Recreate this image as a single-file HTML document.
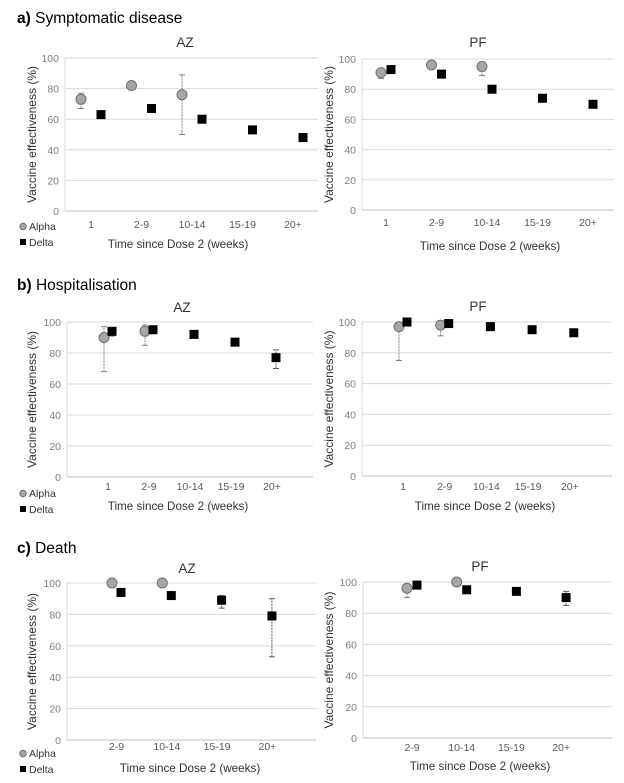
<!DOCTYPE html>
<html><head><meta charset="utf-8"><style>
body{margin:0;background:#fff;}
svg{display:block;font-family:"Liberation Sans",sans-serif;}
</style></head><body>
<svg id="fig" width="624" height="783" viewBox="0 0 624 783">
<text x="17" y="23" font-size="15.5"><tspan font-weight="bold">a)</tspan> Symptomatic disease</text>
<text x="17" y="290" font-size="15.5"><tspan font-weight="bold">b)</tspan> Hospitalisation</text>
<text x="17" y="553" font-size="15.5"><tspan font-weight="bold">c)</tspan> Death</text>
</svg>
<script>
// ---- data ----
const catsFull = ["1","2-9","10-14","15-19","20+"];
const catsDeath = ["2-9","10-14","15-19","20+"];
const yTicks = [0,20,40,60,80,100];
// a) symptomatic
const aAZAlpha = [73,82,76,null,null];
const aAZAlphaLo = [67,80,50,null,null];
const aAZAlphaHi = [77,83,89,null,null];
const aAZDelta = [63,67,60,53,48];
const aPFAlpha = [91,96,95,null,null];
const aPFAlphaLo = [87,95,89,null,null];
const aPFAlphaHi = [92,97,97,null,null];
const aPFDelta = [93,90,80,74,70];
// b) hospitalisation
const bAZAlpha = [90,94,null,null,null];
const bAZAlphaLo = [68,85,null,null,null];
const bAZAlphaHi = [97,98,null,null,null];
const bAZDelta = [94,95,92,87,77];
const bAZDeltaLo = [91,94,91,86,70];
const bAZDeltaHi = [96,96,93,88,82];
const bPFAlpha = [97,98,null,null,null];
const bPFAlphaLo = [75,91,null,null,null];
const bPFAlphaHi = [99,99,null,null,null];
const bPFDelta = [100,99,97,95,93];
const bPFDeltaLo = [99,98,96,94,91];
const bPFDeltaHi = [100,99,97,95,94];
// c) death
const cAZAlpha = [100,100,null,null];
const cAZDelta = [94,92,89,79];
const cAZDeltaLo = [92,90,84,53];
const cAZDeltaHi = [95,94,92,90];
const cPFAlpha = [96,100,null,null];
const cPFAlphaLo = [90,100,null,null];
const cPFAlphaHi = [98,100,null,null];
const cPFDelta = [98,95,94,90];
const cPFDeltaLo = [97,94,93,85];
const cPFDeltaHi = [99,96,95,94];

const NS="http://www.w3.org/2000/svg";
const svg=document.getElementById('fig');
function mk(tag,attrs,parent){const e=document.createElementNS(NS,tag);for(const k in attrs)e.setAttribute(k,attrs[k]);(parent||svg).appendChild(e);return e;}

const panels=[
 {id:'a-az',title:'AZ',cats:catsFull,x0:65,x1:318,yTop:58,yBot:211,c0:91,step:50.5,off:10,tx:185,ty:47,tickY:228,xtX:178,xtY:248,ytX:36,legend:[20,230],
  alpha:aAZAlpha,alo:aAZAlphaLo,ahi:aAZAlphaHi,delta:aAZDelta,dlo:null,dhi:null},
 {id:'a-pf',title:'PF',cats:catsFull,x0:362,x1:614,yTop:59,yBot:210,c0:386,step:50.5,off:5,tx:478,ty:47,tickY:226,xtX:490,xtY:250,ytX:333,legend:null,
  alpha:aPFAlpha,alo:aPFAlphaLo,ahi:aPFAlphaHi,delta:aPFDelta,dlo:null,dhi:null},
 {id:'b-az',title:'AZ',cats:catsFull,x0:67,x1:313,yTop:322,yBot:477,c0:108,step:41,off:4,tx:182,ty:312,tickY:490,xtX:178,xtY:510,ytX:36,legend:[20,497],
  alpha:bAZAlpha,alo:bAZAlphaLo,ahi:bAZAlphaHi,delta:bAZDelta,dlo:bAZDeltaLo,dhi:bAZDeltaHi},
 {id:'b-pf',title:'PF',cats:catsFull,x0:362,x1:612,yTop:322,yBot:476,c0:403,step:41.7,off:4,tx:478,ty:311,tickY:490,xtX:485,xtY:510,ytX:333,legend:null,
  alpha:bPFAlpha,alo:bPFAlphaLo,ahi:bPFAlphaHi,delta:bPFDelta,dlo:bPFDeltaLo,dhi:bPFDeltaHi},
 {id:'c-az',title:'AZ',cats:catsDeath,x0:67,x1:316,yTop:583,yBot:740,c0:116.5,step:50.3,off:4.5,tx:187,ty:573,tickY:750,xtX:190,xtY:772,ytX:36,legend:[20,757],
  alpha:cAZAlpha,alo:null,ahi:null,delta:cAZDelta,dlo:cAZDeltaLo,dhi:cAZDeltaHi},
 {id:'c-pf',title:'PF',cats:catsDeath,x0:363,x1:612,yTop:582,yBot:738,c0:412,step:49.7,off:5,tx:480,ty:571,tickY:751,xtX:480,xtY:770,ytX:333,legend:null,
  alpha:cPFAlpha,alo:cPFAlphaLo,ahi:cPFAlphaHi,delta:cPFDelta,dlo:cPFDeltaLo,dhi:cPFDeltaHi}
];

function errBar(g,x,yS,lo,hi,color){
  const l=mk('line',{x1:x,x2:x,y1:yS(lo),y2:yS(hi),stroke:color,'stroke-width':1,'stroke-dasharray':'2,1'},g);
  
  
  [lo,hi].forEach(v=>{const c=mk('line',{x1:x-3,x2:x+3,y1:yS(v),y2:yS(v),stroke:color,'stroke-width':1},g);
    
    });
}

panels.forEach(p=>{
  const g=mk('g',{});
  
  
  const yS=v=>p.yBot-(v/100)*(p.yBot-p.yTop);
  const xS=i=>p.c0+i*p.step;
  yTicks.forEach(t=>{
    const ln=mk('line',{x1:p.x0,x2:p.x1,y1:yS(t),y2:yS(t),stroke:t===0?'#bfbfbf':'#d9d9d9','stroke-width':1},g);
    
    
    const tx=mk('text',{x:p.x0-6,y:yS(t)+4,'font-size':10.5,fill:'#7f7f7f','text-anchor':'end'},g);
    tx.textContent=t;
    
    
  });
  const ax=mk('line',{x1:p.x0,x2:p.x0,y1:p.yTop,y2:p.yBot,stroke:'#d9d9d9'},g);
  
  
  p.cats.forEach((c,i)=>{
    const tx=mk('text',{x:xS(i),y:p.tickY,'font-size':10.5,fill:'#595959','text-anchor':'middle'},g);
    tx.textContent=c;
    
    
  });
  const tt=mk('text',{x:p.tx,y:p.ty,'font-size':13.5,fill:'#333','text-anchor':'middle'},g);
  tt.textContent=p.title;
  
  
  const xt=mk('text',{x:p.xtX,y:p.xtY,'font-size':11.7,fill:'#333','text-anchor':'middle'},g);
  xt.textContent='Time since Dose 2 (weeks)';
  
  
  const ymid=(p.yTop+p.yBot)/2;
  const yt=mk('text',{x:p.ytX,y:ymid,'font-size':12,fill:'#333','text-anchor':'middle',transform:`rotate(-90 ${p.ytX} ${ymid})`},g);
  yt.textContent='Vaccine effectiveness (%)';
  
  
  p.alpha.forEach((v,i)=>{
    if(v==null)return;
    const x=xS(i)-p.off;
    if(p.alo&&p.alo[i]!=null&&p.alo[i]!==p.ahi[i])errBar(g,x,yS,p.alo[i],p.ahi[i],'#7f7f7f');
    const c=mk('circle',{cx:x,cy:yS(v),r:5,fill:'#a6a6a6',stroke:'#6f6f6f','stroke-width':1},g);
    
    
  });
  p.delta.forEach((v,i)=>{
    if(v==null)return;
    const x=xS(i)+p.off;
    if(p.dlo&&p.dlo[i]!=null)errBar(g,x,yS,p.dlo[i],p.dhi[i],'#595959');
    const r=mk('rect',{x:x-4.5,y:yS(v)-4.5,width:9,height:9,fill:'#000'},g);
    
    
  });
  if(p.legend){
    const [lx,ly]=p.legend;
    const c=mk('circle',{cx:lx+3,cy:ly-3.5,r:3.2,fill:'#a6a6a6',stroke:'#6f6f6f'},g);
    
    
    const t1=mk('text',{x:lx+9,y:ly,'font-size':10.5,fill:'#333'},g);
    t1.textContent='Alpha';
    
    
    const r=mk('rect',{x:lx,y:ly+16-7,width:6,height:6,fill:'#000'},g);
    
    
    const t2=mk('text',{x:lx+9,y:ly+16,'font-size':10.5,fill:'#333'},g);
    t2.textContent='Delta';
    
    
  }
});
</script>
</body></html>
